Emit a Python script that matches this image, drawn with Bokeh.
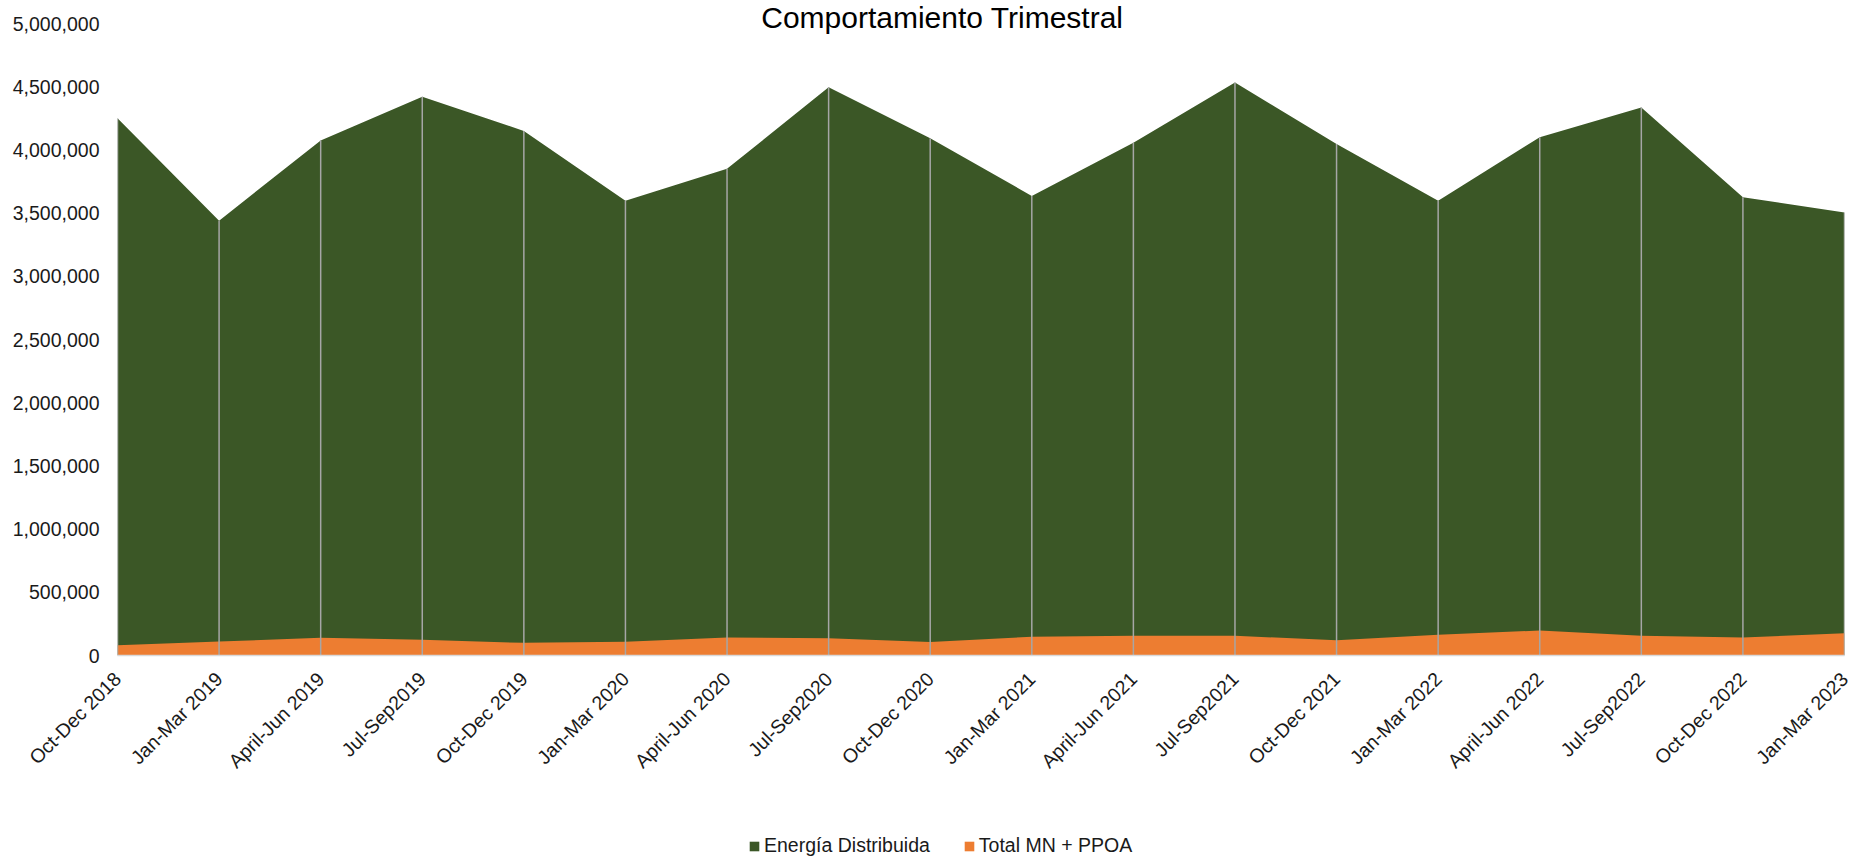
import math

from bokeh.embed import file_html
from bokeh.layouts import column
from bokeh.models import (FixedTicker, Label, Legend, LegendItem,
                          NumeralTickFormatter, Range1d)
from bokeh.plotting import figure
from bokeh.resources import INLINE

# Quarterly figures
quarters = ["Oct-Dec 2018", "Jan-Mar 2019", "April-Jun 2019", "Jul-Sep2019",
            "Oct-Dec 2019", "Jan-Mar 2020", "April-Jun 2020", "Jul-Sep2020",
            "Oct-Dec 2020", "Jan-Mar 2021", "April-Jun 2021", "Jul-Sep2021",
            "Oct-Dec 2021", "Jan-Mar 2022", "April-Jun 2022", "Jul-Sep2022",
            "Oct-Dec 2022", "Jan-Mar 2023"]
energia_distribuida = [4250000, 3440000, 4075000, 4420000, 4150000, 3598000,
                       3850000, 4495000, 4093000, 3636000, 4056000, 4533000,
                       4047000, 3598000, 4100000, 4336000, 3626000, 3505000]
total_mn_ppoa = [82000, 111000, 140000, 124000, 100000, 108000,
                 142000, 137000, 106000, 148000, 156000, 156000,
                 121000, 164000, 198000, 156000, 142000, 177000]
y_ticks = [0, 500000, 1000000, 1500000, 2000000, 2500000,
           3000000, 3500000, 4000000, 4500000, 5000000]

title_text = "Comportamiento Trimestral"
series_names = ["Energía Distribuida", "Total MN + PPOA"]

GREEN = "#3b5726"
ORANGE = "#ed7d31"
DROP = "#a6a6a6"
FONT = "Liberation Sans"
TEXT_COLOR = "#1a1a1a"

W = 1852
MAIN_H = 800
LEGEND_H = 57

idx = list(range(len(quarters)))

# the frame reaches the top edge so the title can sit above the 5,000,000 line
y_top = y_ticks[-1] * (1 + 23 / 632)

p = figure(width=W, height=MAIN_H,
           x_range=Range1d(0, len(quarters) - 1),
           y_range=Range1d(y_ticks[0], y_top),
           output_backend="svg", toolbar_location=None,
           min_border_left=117, min_border_right=8,
           min_border_top=0, min_border_bottom=MAIN_H - 655)
p.outline_line_color = None
p.background_fill_color = "white"
p.border_fill_color = "white"
p.grid.grid_line_color = None

p.varea(x=idx, y1=0, y2=energia_distribuida, fill_color=GREEN)
p.varea(x=idx, y1=0, y2=total_mn_ppoa, fill_color=ORANGE)
# drop lines from each quarter's value down to the axis
p.segment(x0=idx, y0=0, x1=idx, y1=energia_distribuida,
          line_color=DROP, line_width=1.5)

# x axis: one tick per quarter, labels slanted
p.xaxis.ticker = FixedTicker(ticks=idx)
p.xaxis.major_label_overrides = {i: q for i, q in enumerate(quarters)}
p.xaxis.major_label_orientation = math.pi / 4
p.xaxis.axis_line_color = "#d9d9d9"
p.xaxis.axis_line_width = 1.5
p.xaxis.major_tick_line_color = None
p.xaxis.minor_tick_line_color = None
p.xaxis.major_tick_out = 0
p.xaxis.major_label_standoff = 20
p.xaxis.major_label_text_font = FONT
p.xaxis.major_label_text_font_size = "19.5px"
p.xaxis.major_label_text_color = TEXT_COLOR

# y axis
p.yaxis.ticker = FixedTicker(ticks=y_ticks)
p.yaxis.formatter = NumeralTickFormatter(format="0,0")
p.yaxis.axis_line_color = None
p.yaxis.major_tick_line_color = None
p.yaxis.minor_tick_line_color = None
p.yaxis.major_tick_out = 0
p.yaxis.major_label_standoff = 18
p.yaxis.major_label_text_font = FONT
p.yaxis.major_label_text_font_size = "19.5px"
p.yaxis.major_label_text_color = TEXT_COLOR

# title
p.add_layout(Label(x=8.12, y=y_top, text=title_text,
                   text_font=FONT, text_font_size="30px",
                   text_color="#000000", text_align="center",
                   text_baseline="top"))

# legend strip underneath the chart (its frame lines up with the chart's)
lg = figure(width=W, height=LEGEND_H, x_range=Range1d(0, 1), y_range=Range1d(0, 1),
            output_backend="svg", toolbar_location=None,
            x_axis_location=None, y_axis_location=None,
            min_border=0)
lg.outline_line_color = None
lg.grid.grid_line_color = None
lg.background_fill_color = "white"
lg.border_fill_color = "white"
# zero-height key areas: they only supply the legend swatches
key_energia = lg.varea(x=[0], y1=[0], y2=[0], fill_color=GREEN)
key_total = lg.varea(x=[0], y1=[0], y2=[0], fill_color=ORANGE)

legend = Legend(items=[LegendItem(label=series_names[0], renderers=[key_energia]),
                       LegendItem(label=series_names[1], renderers=[key_total])],
                location=(631, 0), orientation="horizontal",
                glyph_width=12, glyph_height=12, label_standoff=4,
                label_height=20, spacing=33, padding=0, margin=0,
                border_line_color=None, background_fill_alpha=0,
                label_text_font=FONT, label_text_font_size="19.5px",
                label_text_color=TEXT_COLOR)
lg.add_layout(legend, "center")

page = column(p, lg, spacing=0)
open("out.html", "w").write(file_html(page, INLINE))
